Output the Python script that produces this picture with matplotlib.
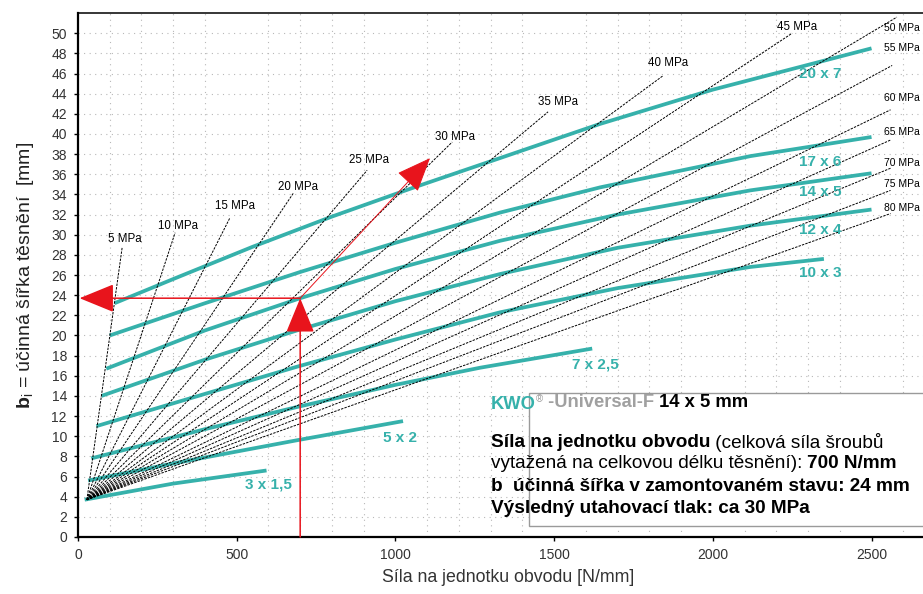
import matplotlib.pyplot as plt
import numpy as np

# Diagram KWO - ucinna sirka tesneni v zavislosti na sile na jednotku obvodu

plt.rcParams['font.family'] = ['Liberation Sans', 'DejaVu Sans']
plt.rcParams['mathtext.fontset'] = 'custom'
plt.rcParams['mathtext.rm'] = 'Liberation Sans'
plt.rcParams['mathtext.bf'] = 'Liberation Sans:bold'

# Krivky tesneni (sila [N/mm], sirka [mm])
tesneni = ["3 x 1,5", "5 x 2", "7 x 2,5", "10 x 3", "12 x 4", "14 x 5", "17 x 6", "20 x 7"]
sila_krivky = [
    [21, 300, 594],
    [32, 300, 690, 1024],
    [42, 400, 690, 1000, 1267, 1620],
    [58, 400, 690, 1000, 1330, 1700, 2118, 2350],
    [74, 400, 690, 1000, 1330, 1700, 2118, 2500],
    [89, 400, 700, 1000, 1330, 1700, 2118, 2500],
    [100, 400, 700, 1000, 1330, 1645, 2118, 2500],
    [115, 300, 550, 800, 1050, 1645, 2000, 2500],
]
sirka_krivky = [
    [3.7, 5.3, 6.6],
    [5.6, 7.3, 9.6, 11.5],
    [7.8, 10.7, 12.9, 15.1, 16.8, 18.7],
    [11.0, 14.2, 16.9, 19.6, 22.3, 24.7, 26.8, 27.6],
    [14.0, 17.6, 20.5, 23.4, 26.1, 28.7, 30.9, 32.5],
    [16.7, 20.5, 23.7, 26.6, 29.4, 32.0, 34.4, 36.1],
    [20.0, 23.2, 26.3, 29.2, 32.2, 34.7, 37.8, 39.7],
    [23.2, 25.6, 28.8, 31.8, 34.6, 41.0, 44.4, 48.5],
]

# Primky tlaku [MPa] - spolecny pocatek a konce
tlaky = [5, 10, 15, 20, 25, 30, 35, 40, 45, 50, 55, 60, 65, 70, 75, 80]
pocatek = (28, 3.7)
konec_sila = [139, 306, 479, 678, 911, 1179, 1481, 1844, 2250, 2580, 2565, 2560, 2560, 2560, 2560, 2560]
konec_sirka = [28.7, 30.2, 31.7, 34.1, 36.4, 39.2, 42.2, 45.8, 50.0, 51.6, 46.8, 42.4, 39.4, 36.6, 34.4, 32.1]

# Priklad odecteni
sila_priklad = 700
sirka_priklad = 23.7
konec_sipky = (1109, 37.6)

# Popisky (umisteni)
popisky_krivek = [(599, 5.2), (1015, 9.8), (1630, 17.1), (2338, 26.2),
                  (2338, 30.5), (2338, 34.2), (2338, 37.2), (2338, 46.0)]
popisky_tlaku = [(148, 29.6), (316, 30.9), (495, 32.9), (694, 34.7), (917, 37.4),
                 (1188, 39.7), (1513, 43.2), (1860, 47.0), (2266, 50.6),
                 (2540, 50.5), (2540, 48.5), (2540, 43.6), (2540, 40.2),
                 (2540, 37.1), (2540, 35.0), (2540, 32.7)]

tyrkys = '#36b1ab'
cervena = '#e8141c'

fig = plt.figure(figsize=(9.23, 5.94), dpi=100)
ax = fig.add_axes([0.0845, 0.096, 0.9285, 0.882])

# Mrizka
ax.set_xlim(0, 2700)
ax.set_ylim(0, 52)
ax.set_xticks(np.arange(0, 2501, 500))
ax.set_xticks(np.arange(0, 2701, 100), minor=True)
ax.set_yticks(np.arange(0, 51, 2))
ax.grid(True, which='minor', axis='x', color='#b8b8b8', linestyle=(0, (1, 4)), linewidth=0.8)
ax.grid(True, which='major', axis='y', color='#b8b8b8', linestyle=(0, (1, 4)), linewidth=0.8)
ax.tick_params(which='minor', length=0)
ax.tick_params(which='major', length=3, width=1, labelsize=10, labelcolor='#333333', pad=5)
ax.set_axisbelow(True)

for s in ['left', 'bottom']:
    ax.spines[s].set_linewidth(1.6)
ax.spines['top'].set_linewidth(1.1)
ax.spines['right'].set_visible(False)

# Krivky tesneni
for i, nazev in enumerate(tesneni):
    ax.plot(sila_krivky[i], sirka_krivky[i], color=tyrkys, linewidth=2.7,
            solid_capstyle='butt', solid_joinstyle='round', zorder=3)
    ax.text(popisky_krivek[i][0], popisky_krivek[i][1], nazev, color=tyrkys,
            fontsize=11, fontweight='bold', ha='center', va='center', zorder=6)

# Primky tlaku
for i, p in enumerate(tlaky):
    ax.plot([pocatek[0], konec_sila[i]], [pocatek[1], konec_sirka[i]], color='black',
            linewidth=0.7, linestyle=(0, (2.5, 1.2)), zorder=4)
    if p < 50:
        ax.text(popisky_tlaku[i][0], popisky_tlaku[i][1], f"{p} MPa", fontsize=8.3,
                ha='center', va='center', zorder=6)
    else:
        ax.text(popisky_tlaku[i][0], popisky_tlaku[i][1], f"{p} MPa", fontsize=7.5,
                ha='left', va='center', zorder=6, clip_on=False)

# Cervene sipky
sipka = dict(arrowstyle='-|>,head_length=1.1,head_width=0.45', color=cervena,
             linewidth=1.1, mutation_scale=20, shrinkA=0, shrinkB=0)
ax.annotate('', xy=(sila_priklad, sirka_priklad), xytext=(sila_priklad, 0),
            arrowprops=sipka, zorder=7)
ax.annotate('', xy=(5, sirka_priklad), xytext=(sila_priklad, sirka_priklad),
            arrowprops=sipka, zorder=7)
tenka = dict(sipka, linewidth=0.7)
ax.annotate('', xy=konec_sipky, xytext=(sila_priklad, sirka_priklad),
            arrowprops=tenka, zorder=7)

# Informacni ramecek
ax.add_patch(plt.Rectangle((1421, 1.1), 1400, 13.2, facecolor='white',
                           edgecolor='#9a9a9a', linewidth=1.0, zorder=5))


def radek(x, y, casti, velikost=13.7):
    t = None
    for text, barva, tucne, vel, vyska in casti:
        w = 'bold' if tucne else 'normal'
        if t is None:
            t = ax.text(x, y, text, color=barva, fontweight=w, fontsize=vel or velikost,
                        va='center', ha='left', zorder=6)
        else:
            t = ax.annotate(text, xy=(1, vyska), xycoords=t, color=barva, fontweight=w,
                            fontsize=vel or velikost, va='center', ha='left', zorder=6)


radek(1300, 13.1, [("KWO", tyrkys, True, 13.2, 0.5), ("®", '#999999', False, 7, 0.85),
                   (" -Universal-F", '#a0a0a0', True, 13.2, 0.2),
                   (" 14 x 5 mm", 'black', True, 13.2, 0.5)])
radek(1300, 9.4, [("Síla na jednotku obvodu", 'black', True, None, 0.5),
                  (" (celková síla šroubů", 'black', False, None, 0.5)])
radek(1300, 7.3, [("vytažená na celkovou délku těsnění): ", 'black', False, None, 0.5),
                  ("700 N/mm", 'black', True, None, 0.5)])
radek(1300, 5.05, [("b", 'black', True, None, 0.5), ("  ", 'black', True, None, 0.5),
                   ("účinná šířka v zamontovaném stavu: 24 mm", 'black', True, None, 0.5)])
radek(1300, 2.85, [("Výsledný utahovací tlak: ca 30 MPa", 'black', True, None, 0.5)])

ax.set_xlabel('Síla na jednotku obvodu [N/mm]', fontsize=12.8, color='#333333')
ax.xaxis.set_label_coords(0.502, -0.062)
ax.set_ylabel(r'$\mathbf{b}_{\mathrm{i}}$ = účinná šířka těsnění  [mm]', fontsize=14,
              color='#222222')
ax.yaxis.set_label_coords(-0.049, 0.5)

plt.savefig('out.png', dpi=100)
